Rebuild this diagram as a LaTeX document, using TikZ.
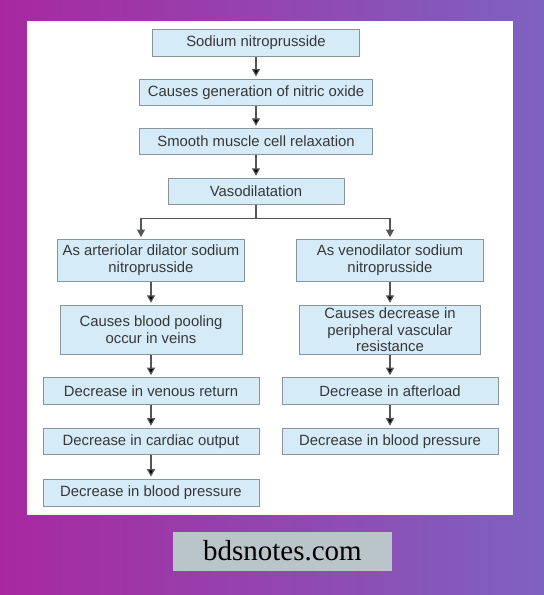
\documentclass[tikz,border=0pt]{standalone}
\usepackage{fontspec}
\setmainfont{Liberation Sans}
\newfontfamily\sitefont{Liberation Serif}
\usetikzlibrary{positioning, arrows.meta}

\definecolor{bgleft}{RGB}{168,40,160}
\definecolor{bgright}{RGB}{126,98,192}
\definecolor{boxfill}{RGB}{213,235,248}
\definecolor{boxline}{RGB}{138,148,154}
\definecolor{boxtext}{RGB}{55,55,55}
\definecolor{arrowgrey}{RGB}{85,85,85}
\definecolor{sitegrey}{RGB}{185,197,201}

\begin{document}
\begin{tikzpicture}
            [x=1pt, y=-1pt,
             stepbox/.style={draw=boxline, fill=boxfill, text=boxtext, line width=0.9pt,
                             inner sep=0pt, align=center, font=\fontsize{14.85}{16.7}\selectfont},
             wide/.style={stepbox, minimum width=216pt, minimum height=26.7pt},
             flow/.style={->, draw=arrowgrey, line width=1.2pt, shorten >=2pt},
             >={Triangle[length=7.5pt, width=8pt]}]
            % background and panel
            \shade[left color=bgleft, right color=bgright] (0,0) rectangle (544,595);
            \fill[white] (27,20.5) rectangle (513,515);

            \node[stepbox, minimum width=207.5pt, minimum height=26.7pt] (sodium) at (256,42.7) {Sodium nitroprusside};
            \node[stepbox, minimum width=232.8pt, minimum height=26.7pt] (noxide) at (256,92.3) {Causes generation of nitric oxide};
            \node[stepbox, minimum width=232.8pt, minimum height=26pt] (relax) at (256,141.3) {Smooth muscle cell relaxation};
            \node[stepbox, minimum width=176pt, minimum height=26pt] (vaso) at (256,191.3) {Vasodilatation};

            \node[stepbox, minimum width=186.6pt, minimum height=42pt] (arter) at (151,260.5) {As arteriolar dilator sodium\\nitroprusside};
            \node[stepbox, minimum width=187.3pt, minimum height=42pt] (veno) at (390,260.5) {As venodilator sodium\\nitroprusside};
            \node[stepbox, minimum width=182pt, minimum height=49pt] (pooling) at (151,329.8) {Causes blood pooling\\occur in veins};
            \node[stepbox, minimum width=181.5pt, minimum height=49pt] (pvr) at (390,329.8) {Causes decrease in\\peripheral vascular\\resistance};
            \node[wide] (venret) at (151,391) {Decrease in venous return};
            \node[wide] (afterload) at (390,391) {Decrease in afterload};
            \node[wide] (cardiac) at (151,441.5) {Decrease in cardiac output};
            \node[wide] (bpright) at (390,441.5) {Decrease in blood pressure};
            \node[wide, minimum height=27.5pt] (bpleft) at (151,492.8) {Decrease in blood pressure};

            \path [flow] (sodium) edge (noxide);
            \path [flow] (noxide) edge (relax);
            \path [flow] (relax) edge (vaso);
            \draw [flow] (vaso.south) -- ++(0,14) -| ([xshift=-10pt]arter.north);
            \draw [flow] (vaso.south) -- ++(0,14) -| (veno.north);
            \path [flow] (arter) edge (pooling);
            \path [flow] (pooling) edge (venret);
            \path [flow] (venret) edge (cardiac);
            \path [flow] (cardiac) edge (bpleft);
            \path [flow] (veno) edge (pvr);
            \path [flow] (pvr) edge (afterload);
            \path [flow] (afterload) edge (bpright);

            % site tag
            \node[fill=sitegrey, minimum width=219.3pt, minimum height=39pt, inner sep=0pt,
                  font=\sitefont\fontsize{29}{30}\selectfont] (site) at (282.4,551) {bdsnotes.com};
        \end{tikzpicture}
\end{document}
